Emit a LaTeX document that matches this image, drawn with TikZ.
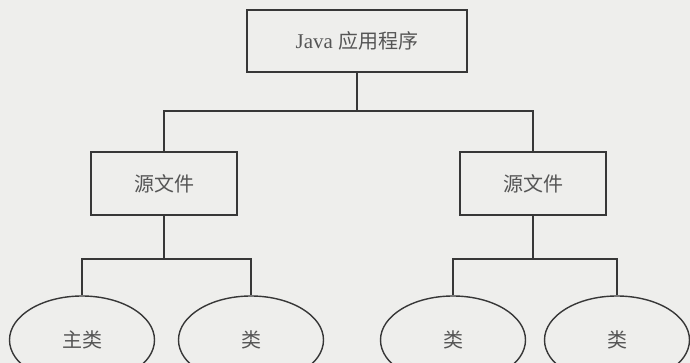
\documentclass[tikz,border=0pt]{standalone}
\usepackage{fontspec}
\usetikzlibrary{shapes.geometric}
\setmainfont{Liberation Serif}
\newfontfamily\cjk{Noto Sans CJK SC}
\definecolor{bgc}{RGB}{238,238,236}
\definecolor{linec}{RGB}{55,55,55}
\definecolor{txtc}{RGB}{85,85,85}
\begin{document}
\begin{tikzpicture}[x=1pt,y=-1pt,
  box/.style={draw=linec,line width=1.4pt,rectangle,inner sep=0pt,text=txtc,font=\fontsize{21}{24}\selectfont},
  cls/.style={draw=linec,line width=1.4pt,ellipse,minimum width=145pt,minimum height=88pt,inner sep=0pt,text=txtc,font=\cjk\fontsize{20}{24}\selectfont},
  conn/.style={draw=linec,line width=1.4pt}]
\useasboundingbox (0,0) rectangle (690,363);
\clip (0,0) rectangle (690,363);
\fill[bgc] (0,0) rectangle (690,363);
\node[box,minimum width=220pt,minimum height=62pt] (app) at (357,41) {Java {\cjk\fontsize{20}{24}\selectfont 应用程序}};
\node[box,minimum width=146pt,minimum height=63pt,font=\cjk\fontsize{20}{24}\selectfont] (s1) at (164,183.5) {源文件};
\node[box,minimum width=146pt,minimum height=63pt,font=\cjk\fontsize{20}{24}\selectfont] (s2) at (533,183.5) {源文件};
\node[cls] (c1) at (82,340) {主类};
\node[cls] (c2) at (251,340) {类};
\node[cls] (c3) at (453,340) {类};
\node[cls] (c4) at (617,340) {类};
\coordinate (j0) at (357,111);
\coordinate (j1) at (164,259);
\coordinate (j2) at (533,259);
\draw[conn] (app.south) -- (j0) -| (s1.north);
\draw[conn] (j0) -| (s2.north);
\draw[conn] (s1.south) -- (j1) -| (c1.north);
\draw[conn] (j1) -| (c2.north);
\draw[conn] (s2.south) -- (j2) -| (c3.north);
\draw[conn] (j2) -| (c4.north);
\end{tikzpicture}
\end{document}
